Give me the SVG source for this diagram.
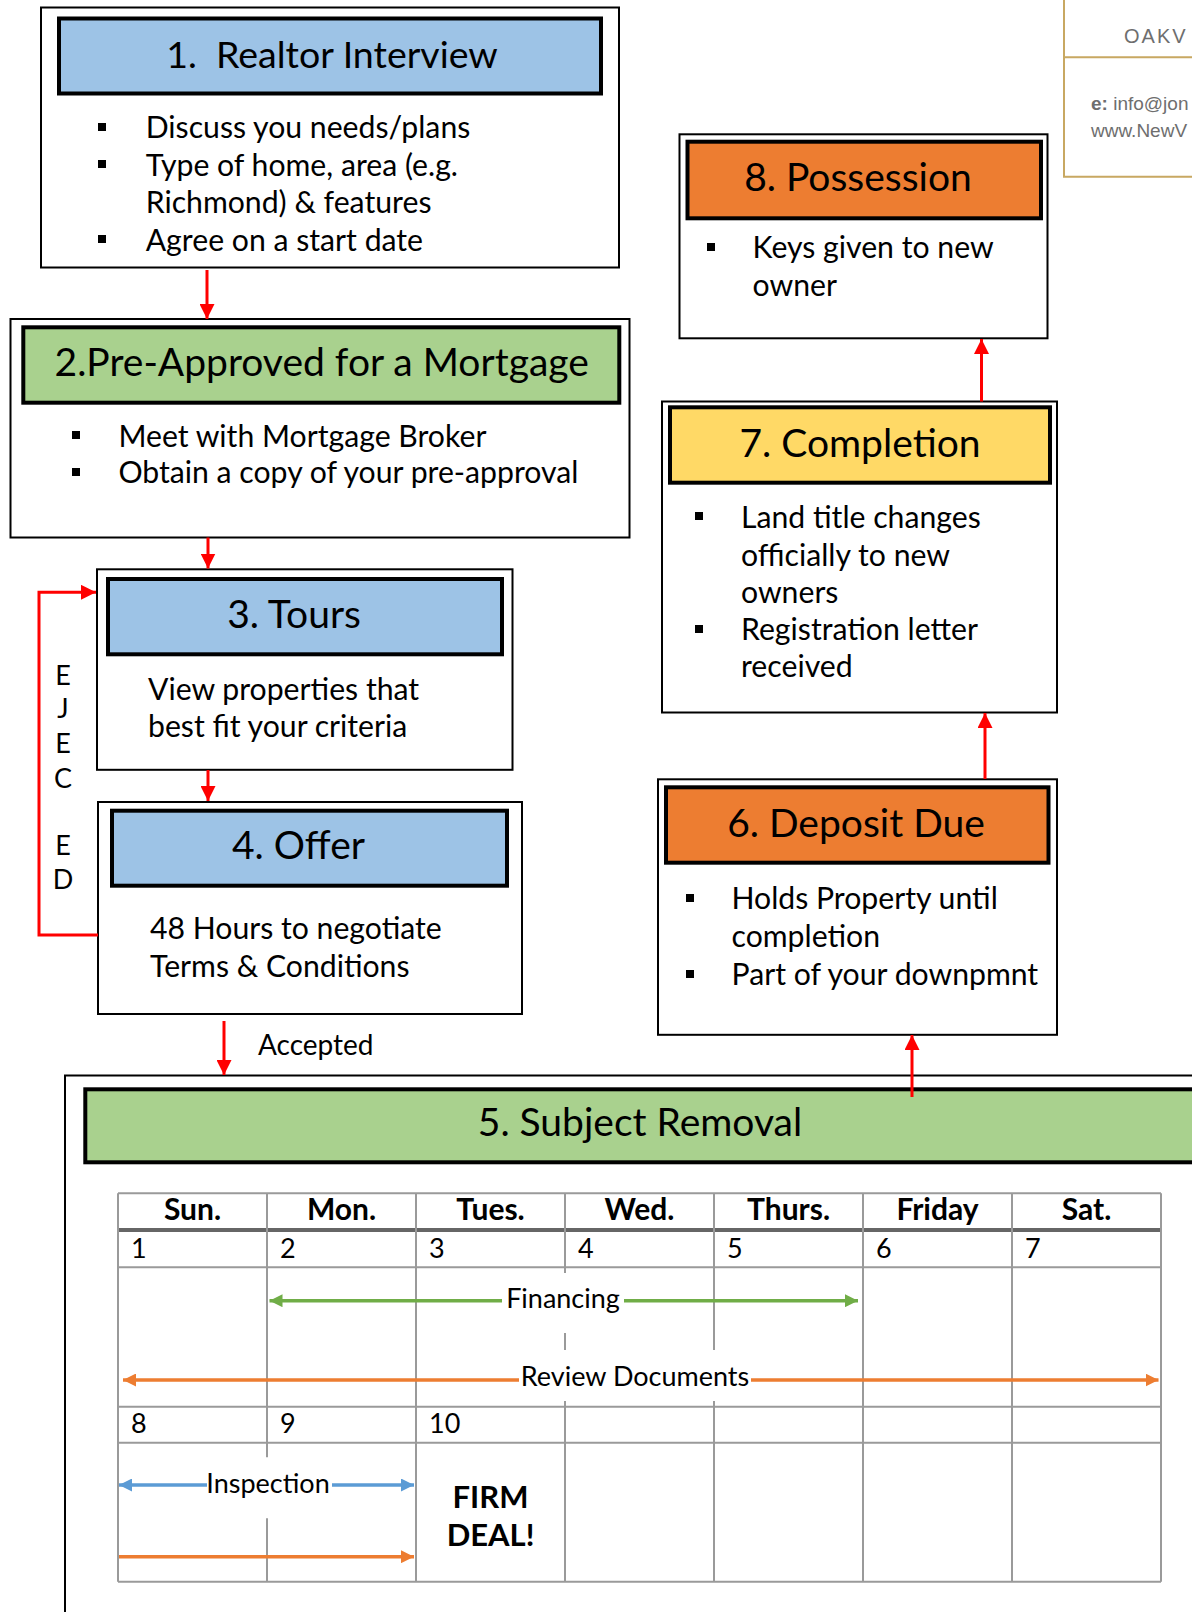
<svg xmlns="http://www.w3.org/2000/svg" width="1192" height="1612" viewBox="0 0 1192 1612">
<style>
.box{fill:#fff;stroke:#000;stroke-width:2}
.hdr{stroke:#000;stroke-width:4}
.blue{fill:#9DC3E6}.green{fill:#A9D18E}.orange{fill:#ED7D31}.yellow{fill:#FFD966}
text{font-family:Lato,"Liberation Sans",sans-serif;fill:#000}
.title{font-size:39px;text-anchor:middle}
.body{font-size:30.2px}
.bul{fill:#000}
.conn{stroke:#FF0000;stroke-width:3;fill:none}
.grid{stroke:#9a9a9a;stroke-width:2;fill:none}
.day{font-size:30px;font-weight:700;text-anchor:middle}
.num{font-size:27px}
.lbl{font-size:27px;text-anchor:middle}
.firm{font-size:31px;font-weight:700;text-anchor:middle}
.rej{font-size:27px;text-anchor:middle}
.logo{font-family:"Liberation Sans",Arial,sans-serif;fill:#6e6e6e}
</style>
<defs>
<marker id="ah-red" markerUnits="userSpaceOnUse" markerWidth="16" markerHeight="15" refX="15" refY="7.5" orient="auto"><path d="M0,0 L15,7.5 L0,15 z" fill="#FF0000"/></marker>
<marker id="ah-green" markerUnits="userSpaceOnUse" markerWidth="14" markerHeight="13" refX="13" refY="6.5" orient="auto"><path d="M0,0 L13,6.5 L0,13 z" fill="#70AD47"/></marker>
<marker id="ah-orange" markerUnits="userSpaceOnUse" markerWidth="14" markerHeight="13" refX="13" refY="6.5" orient="auto"><path d="M0,0 L13,6.5 L0,13 z" fill="#ED7D31"/></marker>
<marker id="ah-blue" markerUnits="userSpaceOnUse" markerWidth="14" markerHeight="13" refX="13" refY="6.5" orient="auto"><path d="M0,0 L13,6.5 L0,13 z" fill="#5B9BD5"/></marker>
</defs>

<g id="logo">
<path d="M1064,0 V176.7 H1192 M1064,57.3 H1192" fill="none" stroke="#C8A862" stroke-width="2"/>
<text class="logo" x="1124" y="43" font-size="20" letter-spacing="2">OAKV</text>
<text class="logo" x="1091" y="110" font-size="19"><tspan font-weight="700">e:</tspan> info@jon</text>
<text class="logo" x="1091" y="137" font-size="19">www.NewV</text>
</g>

<g id="node-1">
<rect class="box" x="41" y="7.5" width="578" height="260"/>
<rect class="hdr blue" x="59" y="18.5" width="542" height="75"/>
<text class="title" x="332" y="68" style="font-size:37.5px" xml:space="preserve">1.  Realtor Interview</text>
<rect class="bul" x="98" y="123" width="8" height="8"/>
<rect class="bul" x="98" y="160" width="8" height="8"/>
<rect class="bul" x="98" y="235" width="8" height="8"/>
<text class="body" x="145.7" y="138">Discuss you needs/plans</text>
<text class="body" x="145.7" y="175.5">Type of home, area (e.g.</text>
<text class="body" x="145.7" y="213">Richmond) &amp; features</text>
<text class="body" x="145.7" y="250.5">Agree on a start date</text>
</g>

<g id="node-2">
<rect class="box" x="10.5" y="319" width="619" height="218.5"/>
<rect class="hdr green" x="23.3" y="327.3" width="596" height="75.4"/>
<text class="title" x="321.7" y="376">2.Pre-Approved for a Mortgage</text>
<rect class="bul" x="72" y="431" width="8" height="8"/>
<rect class="bul" x="72" y="468" width="8" height="8"/>
<text class="body" x="118.4" y="446.5">Meet with Mortgage Broker</text>
<text class="body" x="118.4" y="483.3">Obtain a copy of your pre-approval</text>
</g>

<g id="node-3">
<rect class="box" x="97" y="569.3" width="415.5" height="200.5"/>
<rect class="hdr blue" x="108" y="579" width="394" height="75.3"/>
<text class="title" x="294" y="628">3. Tours</text>
<text class="body" x="148" y="700">View properties that</text>
<text class="body" x="148" y="736.7">best fit your criteria</text>
</g>

<g id="node-4">
<rect class="box" x="98" y="802" width="424" height="212"/>
<rect class="hdr blue" x="112" y="810.7" width="395" height="75"/>
<text class="title" x="298.5" y="859">4. Offer</text>
<text class="body" x="150" y="939.3">48 Hours to negotiate</text>
<text class="body" x="150" y="976.7">Terms &amp; Conditions</text>
</g>

<g id="node-5">
<rect class="box" x="65" y="1075.5" width="1200" height="600"/>
<rect class="hdr green" x="85.3" y="1089.3" width="1200" height="73"/>
<text class="title" x="640" y="1136">5. Subject Removal</text>
<g id="calendar">
<path class="grid" d="M118,1193.3 H1161 M118,1267.3 H1161 M118,1406.7 H1161 M118,1442.7 H1161 M118,1581.7 H1161"/>
<path d="M118,1230 H1161" stroke="#666" stroke-width="4"/>
<path class="grid" d="M118,1193.3 V1581.7 M1161,1193.3 V1581.7 M416,1193.3 V1581.7 M863,1193.3 V1581.7 M1012,1193.3 V1581.7 M267,1193.3 V1457.3 M267,1518.3 V1581.7 M565,1193.3 V1273 M565,1333 V1350 M565,1401 V1581.7 M714,1193.3 V1350 M714,1401 V1581.7"/>
<text class="day" x="192.5" y="1220">Sun.</text>
<text class="day" x="341.5" y="1220">Mon.</text>
<text class="day" x="490.5" y="1220">Tues.</text>
<text class="day" x="639.5" y="1220">Wed.</text>
<text class="day" x="788.5" y="1220">Thurs.</text>
<text class="day" x="937.5" y="1220">Friday</text>
<text class="day" x="1086.5" y="1220">Sat.</text>
<text class="num" x="131" y="1258">1</text>
<text class="num" x="280" y="1258">2</text>
<text class="num" x="429" y="1258">3</text>
<text class="num" x="578" y="1258">4</text>
<text class="num" x="727" y="1258">5</text>
<text class="num" x="876" y="1258">6</text>
<text class="num" x="1025" y="1258">7</text>
<text class="num" x="131" y="1433">8</text>
<text class="num" x="280" y="1433">9</text>
<text class="num" x="429" y="1433">10</text>
<path d="M502,1300.7 H269.5" stroke="#70AD47" stroke-width="3.5" marker-end="url(#ah-green)"/>
<path d="M624,1300.7 H858" stroke="#70AD47" stroke-width="3.5" marker-end="url(#ah-green)"/>
<text class="lbl" x="563" y="1308">Financing</text>
<path d="M519,1380 H123" stroke="#ED7D31" stroke-width="3.5" marker-end="url(#ah-orange)"/>
<path d="M751,1380 H1158.5" stroke="#ED7D31" stroke-width="3.5" marker-end="url(#ah-orange)"/>
<text class="lbl" x="635" y="1386">Review Documents</text>
<path d="M207,1485 H119" stroke="#5B9BD5" stroke-width="3.5" marker-end="url(#ah-blue)"/>
<path d="M332,1485 H414" stroke="#5B9BD5" stroke-width="3.5" marker-end="url(#ah-blue)"/>
<text class="lbl" x="268" y="1493">Inspection</text>
<path d="M119,1556.7 H414" stroke="#ED7D31" stroke-width="3.5" marker-end="url(#ah-orange)"/>
<text class="firm" x="490.5" y="1508">FIRM</text>
<text class="firm" x="490.5" y="1546">DEAL!</text>
</g>
</g>

<g id="node-6">
<rect class="box" x="658" y="779.3" width="399" height="255.5"/>
<rect class="hdr orange" x="666" y="787.3" width="382.5" height="75.4"/>
<text class="title" x="856" y="836.7">6. Deposit Due</text>
<rect class="bul" x="686" y="894" width="8" height="8"/>
<rect class="bul" x="686" y="970" width="8" height="8"/>
<text class="body" x="731.5" y="909.3">Holds Property until</text>
<text class="body" x="731.5" y="946.7">completion</text>
<text class="body" x="731.5" y="985">Part of your downpmnt</text>
</g>

<g id="node-7">
<rect class="box" x="662" y="401.5" width="395" height="311"/>
<rect class="hdr yellow" x="670" y="407.3" width="380" height="75.4"/>
<text class="title" x="860" y="456.7">7. Completion</text>
<rect class="bul" x="695" y="512" width="8" height="8"/>
<rect class="bul" x="695" y="625" width="8" height="8"/>
<text class="body" x="741" y="527.7">Land title changes</text>
<text class="body" x="741" y="565.7">officially to new</text>
<text class="body" x="741" y="602.7">owners</text>
<text class="body" x="741" y="640">Registration letter</text>
<text class="body" x="741" y="676.7">received</text>
</g>

<g id="node-8">
<rect class="box" x="679.5" y="134.3" width="368" height="204"/>
<rect class="hdr orange" x="687.5" y="141.7" width="353.5" height="76.6"/>
<text class="title" x="858" y="190.7">8. Possession</text>
<rect class="bul" x="707" y="243" width="8" height="8"/>
<text class="body" x="752.6" y="258.3">Keys given to new</text>
<text class="body" x="752.6" y="296">owner</text>
</g>

<g id="connectors">
<path class="conn" d="M207,270 V319" marker-end="url(#ah-red)"/>
<path class="conn" d="M208,537.5 V568.5" marker-end="url(#ah-red)"/>
<path class="conn" d="M208,770 V801" marker-end="url(#ah-red)"/>
<path class="conn" d="M224,1021 V1075" marker-end="url(#ah-red)"/>
<path class="conn" d="M912,1097 V1035" marker-end="url(#ah-red)"/>
<path class="conn" d="M985,779 V713" marker-end="url(#ah-red)"/>
<path class="conn" d="M981.5,401.5 V339" marker-end="url(#ah-red)"/>
<path class="conn" d="M98,935 H39 V592.3 H96" stroke-width="2" marker-end="url(#ah-red)"/>
<text x="258" y="1055" font-size="28">Accepted</text>
<text class="rej" x="63" y="685">E</text>
<text class="rej" x="63" y="718.3">J</text>
<text class="rej" x="63" y="753.3">E</text>
<text class="rej" x="63" y="787.7">C</text>
<text class="rej" x="63" y="855">E</text>
<text class="rej" x="63" y="889">D</text>
</g>
</svg>
